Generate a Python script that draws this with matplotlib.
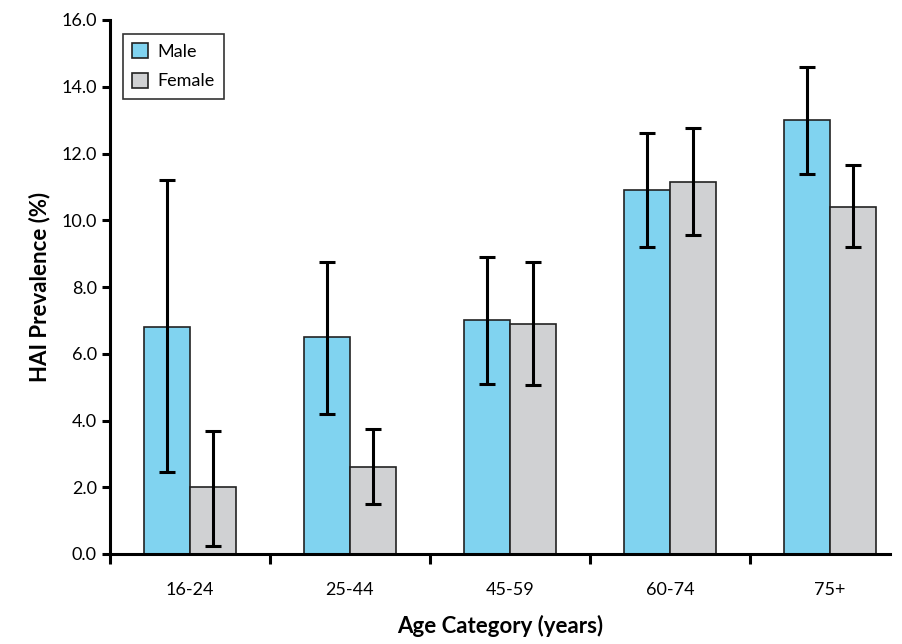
import matplotlib
matplotlib.use("Agg")
import matplotlib.pyplot as plt
import numpy as np

plt.rcParams['font.family'] = ['Lato', 'DejaVu Sans']

categories = ['16-24', '25-44', '45-59', '60-74', '75+']
male = [6.8, 6.5, 7.0, 10.9, 13.0]
male_lo = [2.45, 4.2, 5.1, 9.2, 11.4]
male_hi = [11.2, 8.75, 8.9, 12.6, 14.6]
female = [2.0, 2.6, 6.9, 11.15, 10.4]
female_lo = [0.25, 1.5, 5.05, 9.55, 9.2]
female_hi = [3.7, 3.75, 8.75, 12.75, 11.65]

fig = plt.figure(figsize=(9.02, 6.44), dpi=100)
ax = fig.add_axes([110 / 902, 90 / 644, 780 / 902, 534 / 644])

x = np.arange(len(categories))
w = 0.2875

male_err = [np.array(male) - np.array(male_lo), np.array(male_hi) - np.array(male)]
female_err = [np.array(female) - np.array(female_lo), np.array(female_hi) - np.array(female)]

ax.bar(x - w / 2, male, w, color='#80d3f0', edgecolor='#222222', linewidth=1.2, label='Male', zorder=2)
ax.bar(x + w / 2, female, w, color='#d0d1d3', edgecolor='#222222', linewidth=1.2, label='Female', zorder=2)
ax.errorbar(x - w / 2, male, yerr=male_err, fmt='none', ecolor='black', elinewidth=2.2, capsize=5.5, capthick=2.2, zorder=3)
ax.errorbar(x + w / 2, female, yerr=female_err, fmt='none', ecolor='black', elinewidth=2.2, capsize=5.5, capthick=2.2, zorder=3)

ax.set_xlim(-0.5, 4.375)
ax.set_ylim(0, 16)
ax.set_yticks(np.arange(0, 16.1, 2))
ax.set_yticklabels([f'{v:.1f}' for v in np.arange(0, 16.1, 2)], fontsize=13)
ax.set_xticks(x)
ax.set_xticklabels(categories, fontsize=13)
ax.set_xticks(np.arange(-0.5, 4.5, 1), minor=True)
ax.tick_params(axis='x', which='major', length=0, pad=20)
ax.tick_params(axis='x', which='minor', length=7, width=2.2, direction='out')
ax.tick_params(axis='y', length=6, width=2.2, direction='out')

for s in ['top', 'right']:
    ax.spines[s].set_visible(False)
for s in ['left', 'bottom']:
    ax.spines[s].set_linewidth(2.2)

ax.set_ylabel('HAI Prevalence (%)', fontsize=16, fontweight='bold', labelpad=8)
ax.set_xlabel('Age Category (years)', fontsize=16, fontweight='bold', labelpad=12)

leg = ax.legend(loc='upper left', bbox_to_anchor=(0.005, 0.99), fontsize=13, frameon=True,
                fancybox=False, edgecolor='black', handlelength=0.9, handleheight=0.9,
                handletextpad=0.5, borderpad=0.5, labelspacing=0.7)
leg.get_frame().set_linewidth(1.2)

fig.savefig('out.png', dpi=100)
